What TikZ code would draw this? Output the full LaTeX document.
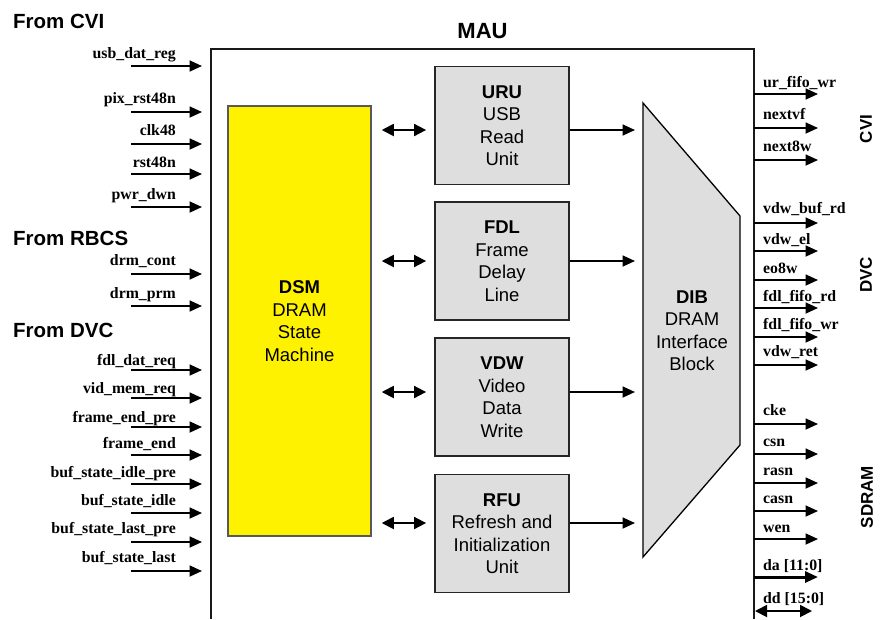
\documentclass[tikz,border=0pt]{standalone}
\usepackage{fontspec}
\setmainfont{Liberation Serif}
\newfontfamily\arialf{Liberation Sans}
\usetikzlibrary{arrows.meta}
\begin{document}
\begin{tikzpicture}[x=1pt,y=-1pt,
  sig/.style={line width=1.8pt,-{Triangle[length=12.5pt,width=11pt]}},
  bus/.style={line width=3pt,-{Triangle[length=13pt,width=11pt]}},
  dsig/.style={line width=1.8pt,{Triangle[length=12pt,width=12pt]}-{Triangle[length=12pt,width=12pt]}},
  lab/.style={font=\fontsize{15.8}{18}\selectfont\bfseries,inner sep=0pt},
  head/.style={font=\arialf\fontsize{20.5}{23}\selectfont\bfseries,inner sep=0pt},
  side/.style={font=\arialf\fontsize{17}{20}\selectfont\bfseries,inner sep=0pt,rotate=90},
  blk/.style={draw=black!85,line width=1.8pt,fill=black!13,minimum width=134pt,minimum height=118pt,
    align=center,inner sep=0pt,font=\arialf\fontsize{18.5}{22.5}\selectfont},
  dsmbox/.style={draw=black!65,line width=1.5pt,fill=yellow,minimum width=143pt,minimum height=430pt,
    align=center,inner sep=0pt,font=\arialf\fontsize{18.5}{22.5}\selectfont},
  dibtext/.style={align=center,inner sep=0pt,font=\arialf\fontsize{18.5}{22.5}\selectfont}
]
\useasboundingbox (0,0) rectangle (882,619);

% MAU outline (open at the bottom)
\coordinate (mBL) at (211,619);
\coordinate (mTL) at (211,49);
\coordinate (mTR) at (754,49);
\coordinate (mBR) at (754,619);
\draw[line width=1.8pt,black!90] (mBL) -- (mTL) -- (mTR) -- (mBR);
\node[head,font=\arialf\fontsize{22}{25}\selectfont\bfseries] (mau) at (482.5,31.5) {MAU};

% headings
\node[head,anchor=west] (hcvi) at (13,21) {From CVI};
\node[head,anchor=west] (hrbcs) at (13,238) {From RBCS};
\node[head,anchor=west] (hdvc) at (13,330.5) {From DVC};

\node[side] (scvi) at (866,129) {CVI};
\node[side] (sdvc) at (866,275) {DVC};
\node[side] (ssdram) at (867,497) {SDRAM};

% left inputs
\foreach \t/\b/\a [count=\i] in {usb\_dat\_reg/58/66, pix\_rst48n/103/112, clk48/135/144,
  rst48n/167/174, pwr\_dwn/199/207, drm\_cont/265/274, drm\_prm/298/306,
  fdl\_dat\_req/365/370, vid\_mem\_req/393/398, frame\_end\_pre/422/427, frame\_end/448/455,
  buf\_state\_idle\_pre/477/484, buf\_state\_idle/505/513, buf\_state\_last\_pre/533/542,
  buf\_state\_last/562/571}{
  \coordinate (inS\i) at (131,\a);
  \coordinate (inE\i) at (mTL |- inS\i);
  \draw[sig,shorten >=9pt] (inS\i) -- (inE\i);
  \node[lab,anchor=base east] (inL\i) at (176,\b) {\t};
}

% right outputs
\foreach \t/\b/\a [count=\i] in {ur\_fifo\_wr/87/94, nextvf/119/128, next8w/151/160,
  vdw\_buf\_rd/213/223, vdw\_el/244/251, eo8w/273/280, fdl\_fifo\_rd/301/308,
  fdl\_fifo\_wr/329/337, vdw\_ret/356/365, cke/415/424, csn/446/454, rasn/475/483,
  casn/503/511, wen/532/539}{
  \coordinate (outE\i) at (818,\a);
  \coordinate (outS\i) at (mTR |- outE\i);
  \draw[sig] (outS\i) -- (outE\i);
  \node[lab,anchor=base west] (outL\i) at (763,\b) {\t};
}
\coordinate (daE) at (818,577);
\draw[bus] (mTR |- daE) -- (daE);
\node[lab,anchor=base west] (daL) at (763,570) {da [11:0]};
\coordinate (ddS) at (755,611);
\coordinate (ddE) at (812,611);
\draw[dsig] (ddS) -- (ddE);
\node[lab,anchor=base west] (ddL) at (763,603) {dd [15:0]};

% blocks
\node[dsmbox] (dsm) at (299.5,321) {\textbf{DSM}\\DRAM\\State\\Machine};
\node[blk] (uru) at (502,125.5) {\textbf{URU}\\USB\\Read\\Unit};
\node[blk] (fdl) at (502,261) {\textbf{FDL}\\Frame\\Delay\\Line};
\node[blk] (vdw) at (502,397) {\textbf{VDW}\\Video\\Data\\Write};
\node[blk] (rfu) at (502,533.5) {\textbf{RFU}\\Refresh and\\Initialization\\Unit};

% DIB trapezoid
\coordinate (d1) at (643,103);
\coordinate (d2) at (740,216);
\coordinate (d3) at (740,445);
\coordinate (d4) at (643,557);
\draw[line width=1.3pt,fill=black!13] (d1) -- (d2) -- (d3) -- (d4) -- cycle;
\node[dibtext] (dib) at (692,330.5) {\textbf{DIB}\\DRAM\\Interface\\Block};

% connectors
\foreach \n/\y in {uru/130, fdl/261, vdw/392, rfu/523}{
  \coordinate (row\n) at (0,\y);
  \draw[dsig,shorten <=10pt,shorten >=8pt] (dsm.east |- row\n) -- (\n.west |- row\n);
  \draw[sig,shorten >=8pt] (\n.east |- row\n) -- (d1 |- row\n);
}
\end{tikzpicture}
\end{document}
